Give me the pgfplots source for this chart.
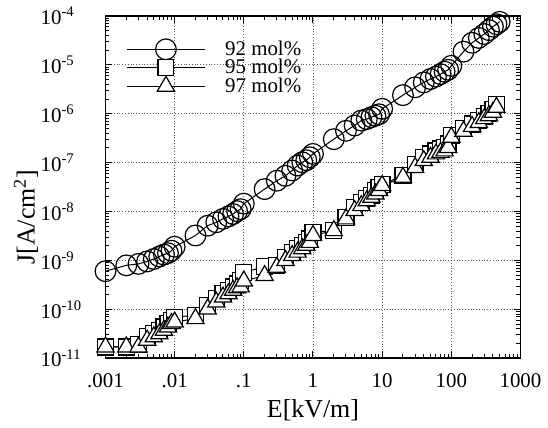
\documentclass[border=0pt]{standalone}
\usepackage{fontspec}
\setmainfont{Liberation Serif}
\usepackage{pgfplots}
\pgfplotsset{compat=1.18}

% E [kV/m]   J [A/cm^2]
\pgfplotstableread{
E J
0.001 6.03e-10
0.002 7.94e-10
0.003 8.51e-10
0.004 9.55e-10
0.005 1.07e-9
0.006 1.20e-9
0.007 1.32e-9
0.008 1.41e-9
0.009 1.58e-9
0.01 1.91e-9
0.02 3.24e-9
0.03 5.13e-9
0.04 6.03e-9
0.05 7.08e-9
0.06 7.94e-9
0.07 8.91e-9
0.08 1.02e-8
0.09 1.12e-8
0.1 1.45e-8
0.2 2.88e-8
0.3 4.27e-8
0.4 5.37e-8
0.5 6.92e-8
0.6 8.71e-8
0.7 1.02e-7
0.8 1.12e-7
0.9 1.29e-7
1 1.51e-7
2 3.02e-7
3 4.47e-7
4 5.75e-7
5 7.24e-7
6 7.76e-7
7 8.51e-7
8 9.12e-7
9 9.77e-7
10 1.26e-6
20 2.40e-6
30 3.47e-6
40 4.37e-6
50 5.13e-6
60 5.75e-6
70 6.46e-6
80 7.24e-6
90 7.94e-6
100 9.55e-6
150 1.86e-5
200 2.82e-5
250 3.55e-5
300 4.27e-5
350 5.13e-5
400 6.03e-5
450 6.76e-5
500 7.59e-5
}\molA

\pgfplotstableread{
E J
0.001 1.70e-11
0.002 1.70e-11
0.003 1.91e-11
0.004 2.75e-11
0.005 3.16e-11
0.006 3.72e-11
0.007 4.37e-11
0.008 5.13e-11
0.009 6.03e-11
0.01 6.92e-11
0.02 7.59e-11
0.03 1.20e-10
0.04 1.66e-10
0.05 2.09e-10
0.06 2.45e-10
0.07 2.88e-10
0.08 3.31e-10
0.09 3.89e-10
0.1 5.62e-10
0.2 7.59e-10
0.3 7.94e-10
0.4 1.17e-9
0.5 1.48e-9
0.6 1.74e-9
0.7 2.04e-9
0.8 2.34e-9
0.9 2.75e-9
1 3.80e-9
2 4.07e-9
3 7.59e-9
4 1.23e-8
5 1.55e-8
6 1.82e-8
7 2.14e-8
8 2.69e-8
9 3.16e-8
10 3.63e-8
20 5.37e-8
30 9.33e-8
40 1.29e-7
50 1.51e-7
60 1.74e-7
70 1.91e-7
80 2.04e-7
90 2.40e-7
100 3.55e-7
150 5.01e-7
200 6.17e-7
250 7.41e-7
300 8.71e-7
350 1.02e-6
400 1.20e-6
450 1.55e-6
}\molB

\pgfplotstableread{
E J
0.001 1.70e-11
0.002 1.70e-11
0.003 1.70e-11
0.004 2.34e-11
0.005 2.75e-11
0.006 3.16e-11
0.007 3.72e-11
0.008 4.37e-11
0.009 5.13e-11
0.01 5.50e-11
0.02 6.46e-11
0.03 1.02e-10
0.04 1.41e-10
0.05 1.78e-10
0.06 2.09e-10
0.07 2.45e-10
0.08 2.75e-10
0.09 2.88e-10
0.1 3.80e-10
0.2 4.90e-10
0.3 7.24e-10
0.4 1.00e-9
0.5 1.26e-9
0.6 1.48e-9
0.7 1.74e-9
0.8 2.04e-9
0.9 2.34e-9
1 3.24e-9
2 4.07e-9
3 7.08e-9
4 1.05e-8
5 1.32e-8
6 1.66e-8
7 1.95e-8
8 2.29e-8
9 2.69e-8
10 3.39e-8
20 5.01e-8
30 7.94e-8
40 1.10e-7
50 1.29e-7
60 1.51e-7
70 1.62e-7
80 1.74e-7
90 2.04e-7
100 3.31e-7
150 4.37e-7
200 5.50e-7
250 6.61e-7
300 7.94e-7
350 9.12e-7
400 1.07e-6
450 1.35e-6
}\molC

\begin{document}
\begin{tikzpicture}
\begin{axis}[
  name=ax,
  xmode=log, ymode=log,
  scale only axis,
  width=208.5pt, height=172pt,
  xmin=0.001, xmax=1000, ymin=1e-11, ymax=1e-4,
  xtick={0.001,0.01,0.1,1,10,100,1000},
  xticklabels={.001,.01,.1,1,10,100,1000},
  ytick={1e-11,1e-10,1e-9,1e-8,1e-7,1e-6,1e-5,1e-4},
  yticklabels={10\textsuperscript{-11},10\textsuperscript{-10},10\textsuperscript{-9},10\textsuperscript{-8},
               10\textsuperscript{-7},10\textsuperscript{-6},10\textsuperscript{-5},10\textsuperscript{-4}},
  xtick pos=both, ytick pos=both,
  tick align=inside,
  major tick length=3.5pt, minor tick length=2pt,
  every tick/.style={black, line width=0.5pt},
  axis line style={line width=0.8pt},
  grid=major,
  major grid style={densely dotted, black!65, line width=0.45pt},
  tick label style={font=\fontsize{10.5}{12}\selectfont},
  xticklabel style={yshift=-4pt},
  yticklabel style={text width=29pt, align=left},
  xlabel={E[kV/m]},
  ylabel={J[A/cm\textsuperscript{2}]},
  label style={font=\fontsize{13}{15}\selectfont},
  xlabel style={yshift=1pt},
  ylabel style={yshift=-5.5pt, xshift=-15pt},
  legend style={at={(axis description cs:0.05,0.935)}, anchor=north west,
    draw=none, fill=none, inner sep=0pt, row sep=-1.5pt, column sep=9pt,
    font=\fontsize{10.5}{12}\selectfont, nodes={inner sep=1pt}},
  legend cell align=left,
  legend image code/.code={\draw[mark repeat=2, mark phase=2]
    plot coordinates {(0pt,0pt) (19.5pt,0pt) (39pt,0pt)};},
]
\addplot[black, line width=0.5pt, mark=o, mark size=5.2pt, mark options={solid, fill=white, line width=0.6pt}] table {\molA};
\addplot[black, line width=0.5pt, mark=square*, mark size=4pt, mark options={solid, fill=white, line width=0.6pt}] table {\molB};
\addplot[black, line width=0.5pt, mark=triangle*, mark size=5pt, mark options={solid, fill=white, line width=0.6pt}] table {\molC};
\legend{92 mol\%, 95 mol\%, 97 mol\%}
\end{axis}
\path (ax.south west) ++(-53pt,-33.5pt);
\path (ax.north east) ++(12.5pt,8pt);
\end{tikzpicture}
\end{document}
